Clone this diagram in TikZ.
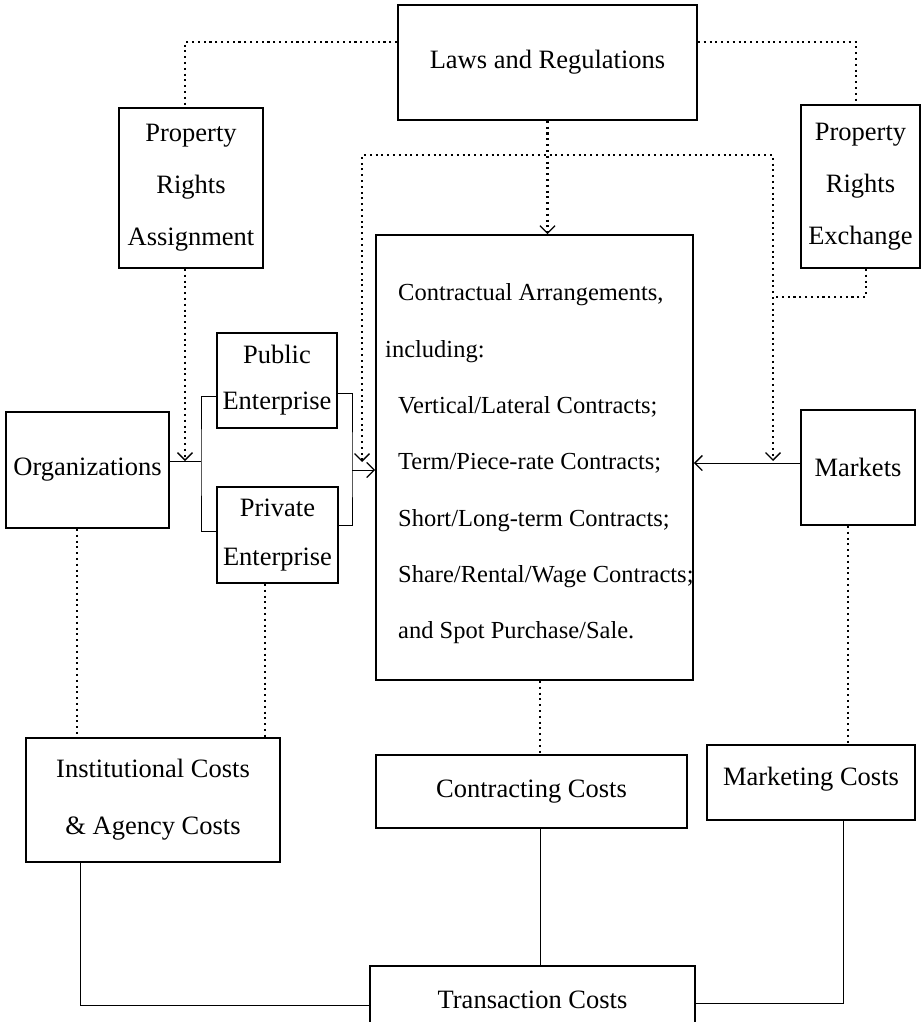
\documentclass[tikz,border=0pt]{standalone}
\usepackage{fontspec}
\setmainfont{Liberation Serif}
\usetikzlibrary{arrows.meta,calc}
\begin{document}
\begin{tikzpicture}[x=1pt,y=-1pt,
  box/.style={draw, line width=1.8pt, inner sep=0pt, align=center, font=\fontsize{26.5}{52}\selectfont},
  txt/.style={inner sep=0pt, font=\fontsize{24.5}{56.3}\selectfont},
  conn/.style={line width=1pt},
  dotline/.style={line width=2.1pt, dash pattern=on 2.1pt off 3.7pt},
  >={Straight Barb[length=7.5pt,width=15pt,line width=1.3pt]}]
\useasboundingbox (0,0) rectangle (922,1022);
\fill[white] (0,0) rectangle (922,1022);
% boxes
\node[box, minimum width=299, minimum height=115] (laws) at (547.5,62.5) {Laws and Regulations};
\node[box, minimum width=144, minimum height=160] (pra) at (191,188) {Property\\Rights\\Assignment};
\node[box, minimum width=119, minimum height=163] (pre) at (860.5,186.5) {Property\\Rights\\Exchange};
\node[box, minimum width=317, minimum height=445] (contract) at (534.5,457.5) {};
\node[txt, anchor=west, align=left] (ctext) at (398,464) {Contractual Arrangements,\\\hspace*{-13pt}including:\\Vertical/Lateral Contracts;\\Term/Piece-rate Contracts;\\Short/Long-term Contracts;\\Share/Rental/Wage Contracts;\\and Spot Purchase/Sale.};
\node[box, minimum width=120, minimum height=95, font=\fontsize{26.5}{46}\selectfont] (pub) at (277,380.5) {Public\\Enterprise};
\node[box, minimum width=121, minimum height=96, font=\fontsize{26.5}{49}\selectfont] (priv) at (277.5,535) {Private\\Enterprise};
\node[box, minimum width=163, minimum height=116] (org) at (87.5,470) {Organizations};
\node[box, minimum width=114, minimum height=115] (markets) at (858,467.5) {Markets};
\node[box, minimum width=254, minimum height=124, font=\fontsize{26.5}{57}\selectfont] (inst) at (153,800) {Institutional Costs\\\& Agency Costs};
\node[box, minimum width=311, minimum height=73] (cc) at (531.5,791.5) {Contracting Costs};
\node[box, minimum width=208, minimum height=75] (mc) at (811,782.5) {\raisebox{12pt}{Marketing Costs}};
\node[box, minimum width=325, minimum height=68] (tc) at (532.5,1000) {Transaction Costs};
% named junctions
\coordinate (oj) at (201,461);
\coordinate (rj) at (352,470);
\coordinate (la) at (362,462);
\coordinate (ra) at (773,461);
\coordinate (tl) at (362,155);
\coordinate (tr) at (773,155);
\coordinate (pj) at (773,297);
% dotted connectors from laws
\draw[dotline] ([yshift=-38pt]laws.north west) -| ([xshift=-6pt]pra.north);
\draw[dotline] ([yshift=-38pt]laws.north east) -| ([xshift=-4.5pt]pre.north);
\draw[dotline,->] (laws.south) -- (laws.south |- contract.north);
\draw[dotline,<->] (la) -- (tl) -- (tr) -- (ra);
\draw[dotline] ([xshift=5.5pt]pre.south) |- (pj);
\draw[dotline,->] ([xshift=-6pt]pra.south) -- ([xshift=-6pt]pra.south |- oj);
% solid connectors
\draw[conn] (org.east |- oj) -- (oj);
\draw[conn] ([yshift=-16pt]pub.west) -| (oj) |- ([yshift=4pt]priv.west);
\draw[conn] ([yshift=-12.5pt]pub.east) -| (rj) |- ([yshift=10pt]priv.east);
\draw[conn,->] (rj) -- (rj -| contract.west);
\draw[conn,->] ([yshift=4.5pt]markets.west) -- ([yshift=4.5pt]markets.west -| contract.east);
% dotted to costs
\draw[dotline] ([xshift=-10.5pt]org.south) -- ([xshift=-10.5pt]org.south |- inst.north);
\draw[dotline] ([xshift=-12.5pt]priv.south) -- ([xshift=-12.5pt]priv.south |- inst.north);
\draw[dotline] ([xshift=5.5pt]contract.south) -- ([xshift=5.5pt]contract.south |- cc.north);
\draw[dotline] ([xshift=-10pt]markets.south) -- ([xshift=-10pt]markets.south |- mc.north);
% solid to transaction
\draw[conn] ([xshift=-73pt]inst.south) |- ([yshift=-5pt]tc.west);
\draw[conn] ([xshift=8.5pt]cc.south) -- ([xshift=8.5pt]cc.south |- tc.north);
\draw[conn] ([xshift=32pt]mc.south) |- ([yshift=-3pt]tc.east);
\end{tikzpicture}
\end{document}
